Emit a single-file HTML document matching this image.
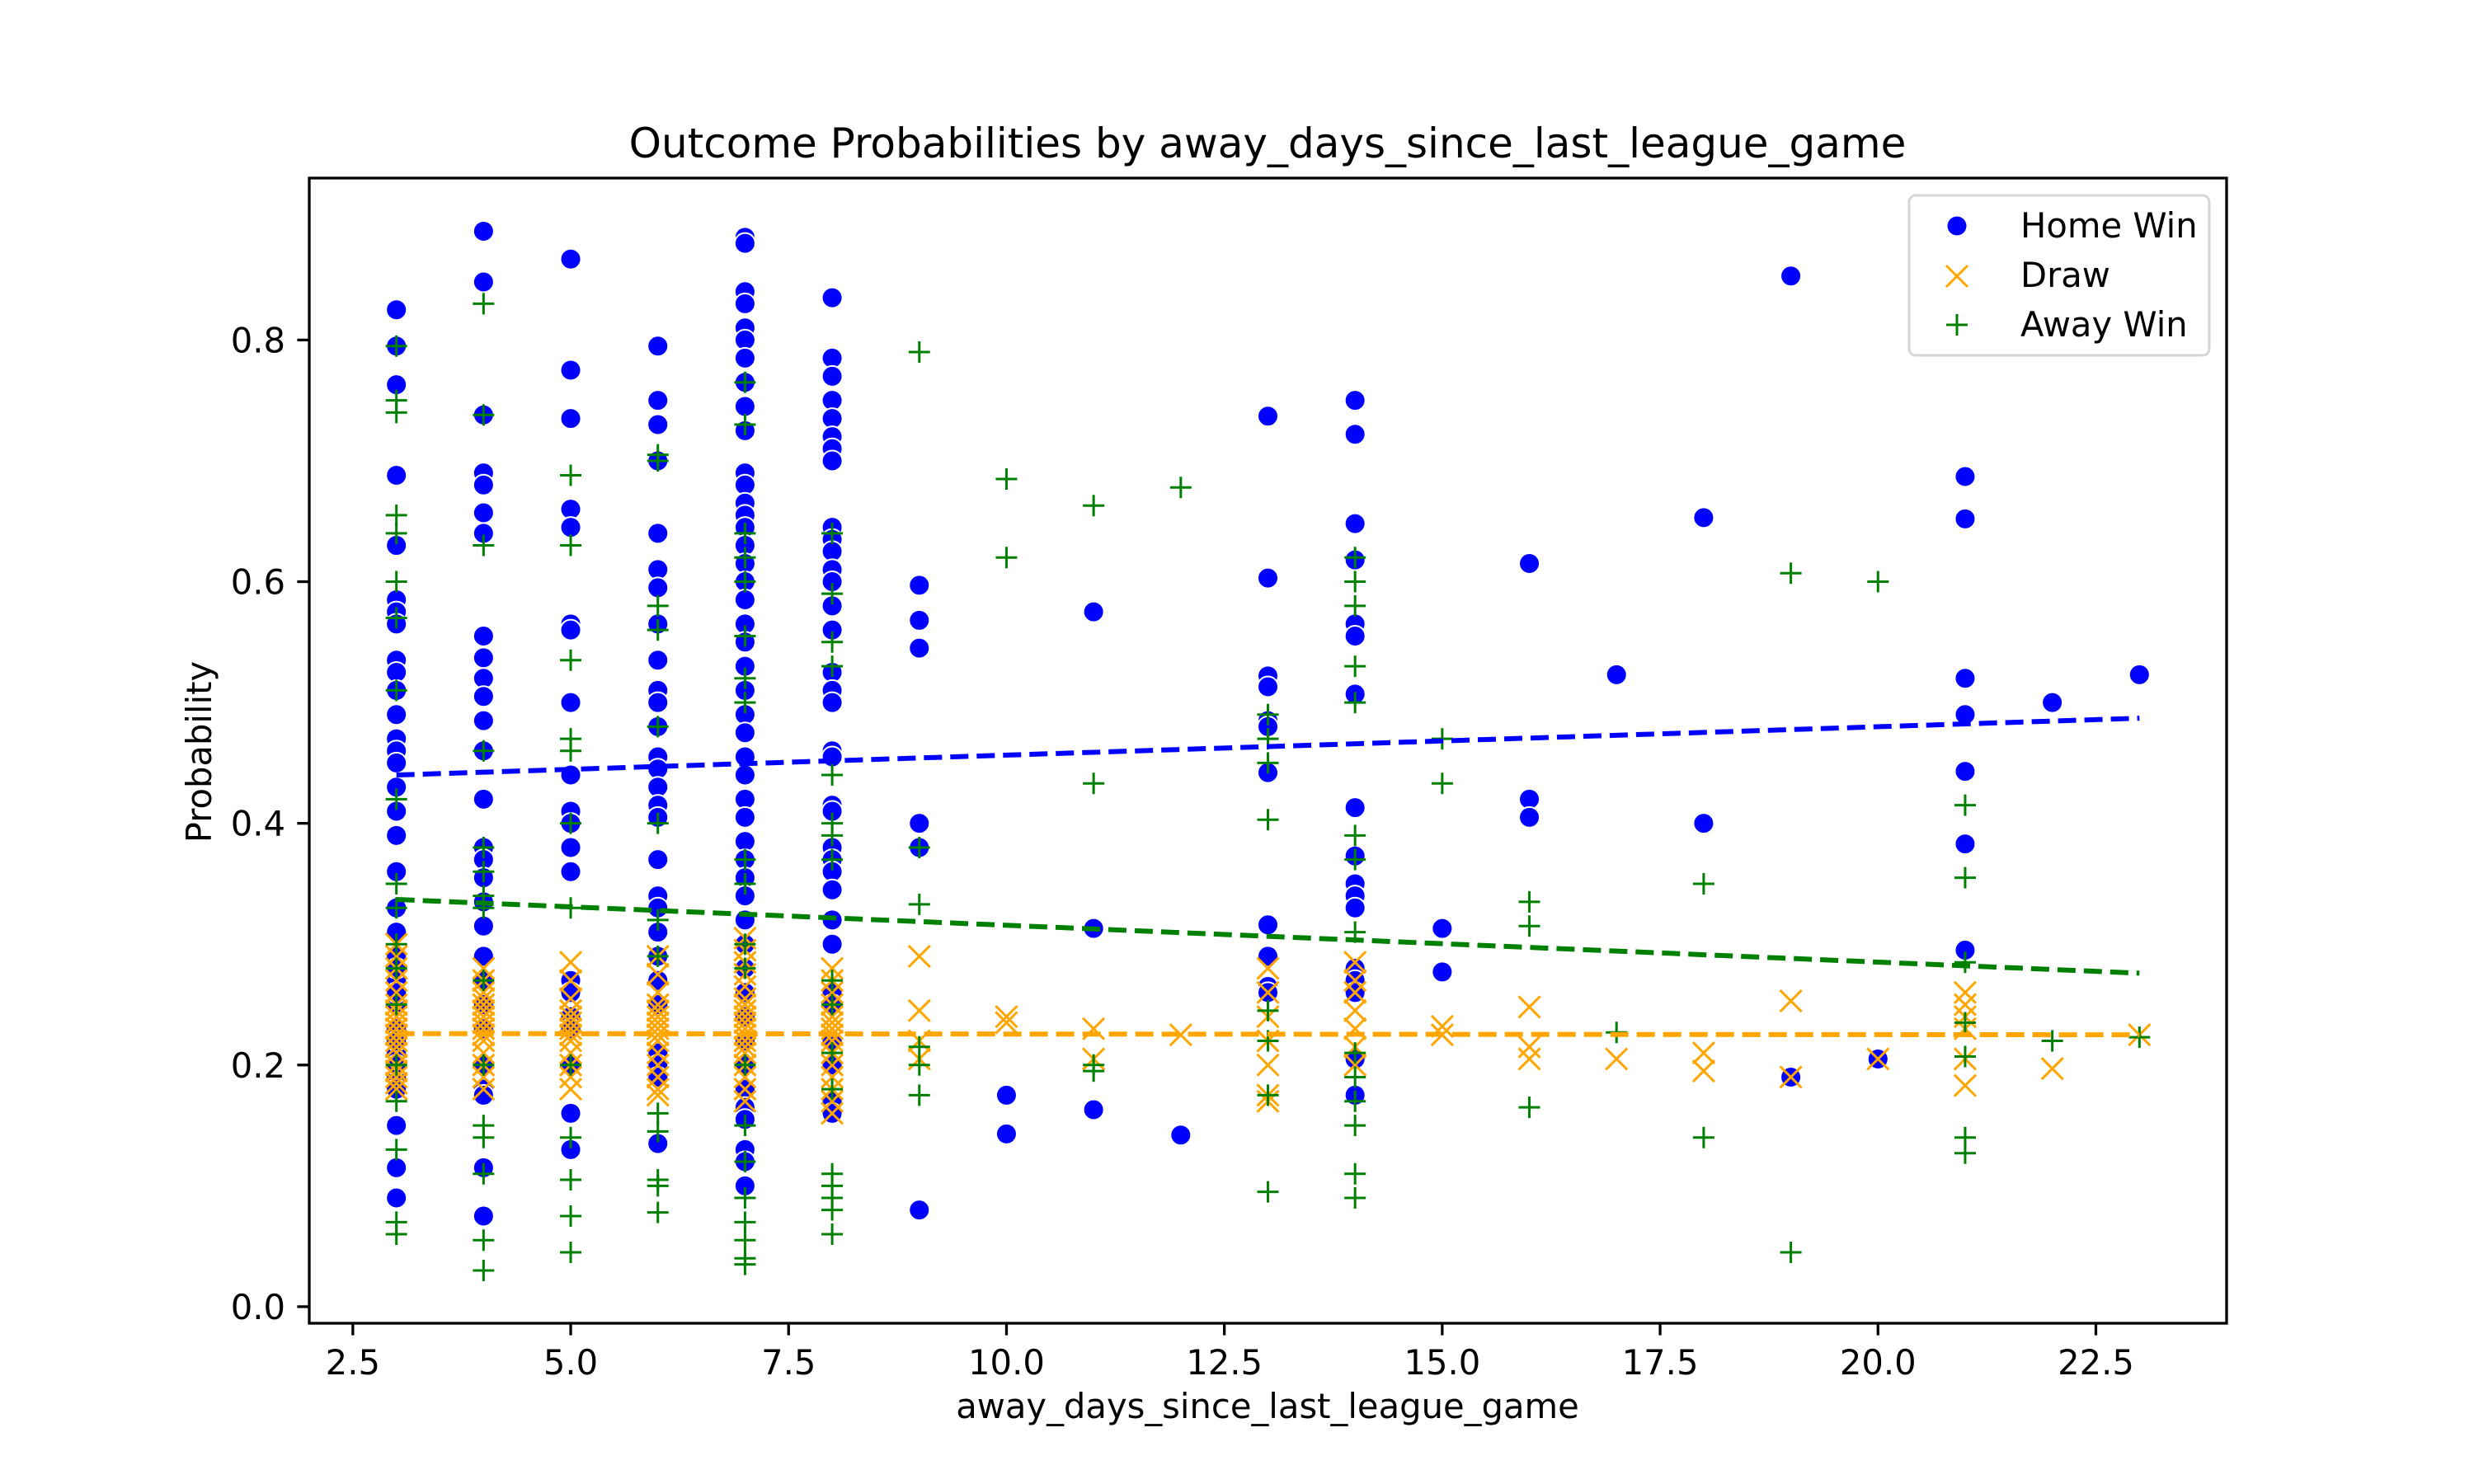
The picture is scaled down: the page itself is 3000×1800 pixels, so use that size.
<!DOCTYPE html>
<html><head><meta charset="utf-8"><style>
html,body{margin:0;padding:0;background:#fff;}
svg{display:block;font-family:"DejaVu Sans","Liberation Sans",sans-serif;}
</style></head><body>
<svg id="chart" width="3000" height="1800" viewBox="0 0 3000 1800" xmlns="http://www.w3.org/2000/svg">
<rect width="3000" height="1800" fill="#fff"/>
<text x="1537" y="191" font-size="50" text-anchor="middle">Outcome Probabilities by away_days_since_last_league_game</text>
<text x="1537" y="1720" font-size="41.7" text-anchor="middle">away_days_since_last_league_game</text>
<text x="0" y="0" font-size="41.7" text-anchor="middle" transform="translate(256,912) rotate(-90)">Probability</text>
<g id="marks"></g>
<g id="axes"></g>
<g>
<rect x="2315" y="237" width="364" height="194" rx="8" fill="#fff" fill-opacity="0.8" stroke="#d6d6d6" stroke-width="3"/>
<circle cx="2373" cy="274" r="11.5" fill="#0000ff"/>
<text x="2450" y="288" font-size="41.7">Home Win</text>
<path d="M2360,322 L2386,348 M2386,322 L2360,348" stroke="#ffa500" stroke-width="3"/>
<text x="2450" y="348" font-size="41.7">Draw</text>
<path d="M2360,394 L2386,394 M2373,381 L2373,407" stroke="#008000" stroke-width="3"/>
<text x="2450" y="408" font-size="41.7">Away Win</text>
</g>
</svg>
<script>
const homeX=[3,4,5,6,7,8,9,10,11,12,13,14,15,16,17,18,19,20,21,22,23];
const homeVals=[
[0.825,0.795,0.763,0.688,0.63,0.585,0.575,0.565,0.535,0.525,0.51,0.49,0.47,0.46,0.45,0.43,0.41,0.39,0.36,0.33,0.31,0.29,0.27,0.25,0.23,0.21,0.19,0.18,0.15,0.115,0.09,0.2,0.22,0.26,0.28],
[0.89,0.848,0.738,0.69,0.68,0.657,0.64,0.555,0.537,0.52,0.505,0.485,0.46,0.42,0.38,0.37,0.355,0.335,0.315,0.29,0.27,0.25,0.23,0.2,0.18,0.175,0.115,0.075],
[0.867,0.775,0.735,0.66,0.645,0.565,0.56,0.5,0.44,0.41,0.4,0.38,0.36,0.27,0.26,0.24,0.23,0.2,0.16,0.13],
[0.795,0.75,0.73,0.7,0.64,0.61,0.595,0.565,0.535,0.51,0.5,0.48,0.455,0.445,0.43,0.415,0.405,0.37,0.34,0.33,0.31,0.29,0.27,0.25,0.21,0.2,0.19,0.135],
[0.885,0.88,0.84,0.83,0.81,0.8,0.785,0.765,0.745,0.725,0.69,0.68,0.665,0.655,0.645,0.63,0.615,0.6,0.585,0.565,0.55,0.53,0.51,0.49,0.475,0.455,0.44,0.42,0.405,0.385,0.37,0.355,0.34,0.32,0.3,0.28,0.26,0.24,0.22,0.2,0.18,0.165,0.155,0.13,0.12,0.1],
[0.835,0.785,0.77,0.75,0.735,0.72,0.71,0.7,0.645,0.635,0.625,0.61,0.6,0.58,0.56,0.525,0.51,0.5,0.46,0.455,0.415,0.41,0.38,0.37,0.36,0.345,0.32,0.3,0.26,0.25,0.22,0.2,0.17,0.16],
[0.597,0.568,0.545,0.4,0.38,0.08],
[0.175,0.143],
[0.575,0.313,0.163],
[0.142],
[0.737,0.603,0.522,0.513,0.485,0.48,0.442,0.316,0.29,0.265,0.26],
[0.75,0.722,0.648,0.618,0.565,0.555,0.507,0.413,0.373,0.35,0.34,0.33,0.28,0.27,0.26,0.205,0.175],
[0.313,0.277],
[0.615,0.42,0.405],
[0.523],
[0.653,0.4],
[0.853,0.19],
[0.205],
[0.687,0.652,0.52,0.49,0.443,0.383,0.295],
[0.5],
[0.523]];
const drawVals=[
[0.3,0.29,0.28,0.27,0.26,0.25,0.245,0.24,0.235,0.23,0.225,0.22,0.215,0.21,0.2,0.195,0.19,0.185,0.18],
[0.28,0.27,0.26,0.255,0.25,0.245,0.24,0.235,0.23,0.225,0.22,0.21,0.2,0.19,0.18],
[0.285,0.27,0.255,0.245,0.24,0.235,0.23,0.225,0.22,0.21,0.2,0.19,0.18],
[0.29,0.275,0.26,0.25,0.245,0.24,0.235,0.23,0.225,0.22,0.21,0.2,0.19,0.18,0.175],
[0.305,0.295,0.285,0.275,0.265,0.255,0.25,0.245,0.24,0.235,0.23,0.225,0.22,0.215,0.21,0.2,0.19,0.18,0.17],
[0.28,0.27,0.26,0.25,0.24,0.235,0.23,0.225,0.22,0.21,0.2,0.19,0.18,0.17,0.16],
[0.29,0.245,0.22,0.205],
[0.24,0.235],
[0.23,0.205],
[0.225],
[0.28,0.26,0.24,0.22,0.2,0.175,0.17],
[0.285,0.27,0.26,0.245,0.23,0.215,0.2],
[0.232,0.225],
[0.248,0.215,0.205],
[0.205],
[0.21,0.195],
[0.253,0.19],
[0.205],
[0.26,0.25,0.24,0.23,0.205,0.183],
[0.197],
[0.225]];
const awayVals=[
[0.795,0.75,0.74,0.655,0.64,0.6,0.57,0.51,0.42,0.35,0.33,0.3,0.28,0.25,0.2,0.17,0.13,0.07,0.06],
[0.83,0.738,0.63,0.46,0.38,0.36,0.34,0.33,0.27,0.2,0.15,0.14,0.11,0.055,0.03],
[0.688,0.63,0.535,0.47,0.46,0.4,0.33,0.2,0.14,0.105,0.075,0.045],
[0.705,0.7,0.58,0.56,0.48,0.4,0.32,0.29,0.16,0.145,0.105,0.1,0.078],
[0.765,0.73,0.64,0.62,0.6,0.555,0.52,0.5,0.37,0.35,0.3,0.28,0.2,0.15,0.12,0.09,0.07,0.055,0.04,0.035],
[0.64,0.59,0.55,0.53,0.44,0.4,0.39,0.37,0.27,0.25,0.21,0.18,0.11,0.1,0.09,0.08,0.06],
[0.79,0.333,0.38,0.215,0.2,0.175],
[0.685,0.62],
[0.663,0.433,0.2,0.195],
[0.678],
[0.49,0.47,0.45,0.403,0.245,0.22,0.175,0.095],
[0.62,0.6,0.58,0.53,0.5,0.39,0.37,0.31,0.21,0.19,0.17,0.15,0.11,0.09],
[0.47,0.433],
[0.335,0.315,0.165],
[0.227],
[0.35,0.14],
[0.607,0.045],
[0.6],
[0.415,0.355,0.285,0.235,0.207,0.14,0.127],
[0.22],
[0.223]];
const trendX=[3,23];
const homeTrend=[0.44,0.487];
const drawTrend=[0.226,0.225];
const awayTrend=[0.337,0.276];
const xTicks=[2.5,5.0,7.5,10.0,12.5,15.0,17.5,20.0,22.5];
const xTickLabels=["2.5","5.0","7.5","10.0","12.5","15.0","17.5","20.0","22.5"];
const yTicks=[0.0,0.2,0.4,0.6,0.8];
const yTickLabels=["0.0","0.2","0.4","0.6","0.8"];

const L=375,R=2700,T=216,B=1605;
const xMin=2,xMax=24,yMin=-0.0137,yMax=0.934;
function sx(v){return L+(v-xMin)/(xMax-xMin)*(R-L);}
function sy(v){return B-(v-yMin)/(yMax-yMin)*(B-T);}
const NS="http://www.w3.org/2000/svg";
const marks=document.getElementById('marks');
const axes=document.getElementById('axes');
function mk(tag,attrs,parent){const e=document.createElementNS(NS,tag);for(const k in attrs)e.setAttribute(k,attrs[k]);parent.appendChild(e);return e;}

homeX.forEach((x,i)=>{homeVals[i].forEach(v=>{
  const c=mk('circle',{cx:sx(x),cy:sy(v),r:12.5,fill:'#0000ff',stroke:'#fff','stroke-width':2},marks);
  
  
});});
homeX.forEach((x,i)=>{drawVals[i].forEach(v=>{
  const X=sx(x),Y=sy(v),s=13;
  const p=mk('path',{d:`M${X-s},${Y-s}L${X+s},${Y+s}M${X+s},${Y-s}L${X-s},${Y+s}`,stroke:'#ffa500','stroke-width':3,fill:'none'},marks);
  
  
});});
homeX.forEach((x,i)=>{awayVals[i].forEach(v=>{
  const X=sx(x),Y=sy(v),s=13;
  const p=mk('path',{d:`M${X-s},${Y}L${X+s},${Y}M${X},${Y-s}L${X},${Y+s}`,stroke:'#008000','stroke-width':3,fill:'none'},marks);
  
  
});});
[[homeTrend,'#0000ff','home-win-trend'],[awayTrend,'#008000','away-win-trend'],[drawTrend,'#ffa500','draw-trend']].forEach(([t,c,n])=>{
  const l=mk('line',{x1:sx(trendX[0]),y1:sy(t[0]),x2:sx(trendX[1]),y2:sy(t[1]),stroke:c,'stroke-width':6,'stroke-dasharray':'22,10'},marks);
  
  
});
const frame=mk('rect',{x:L,y:T,width:R-L,height:B-T,fill:'none',stroke:'#000','stroke-width':3.3},axes);


xTicks.forEach((v,i)=>{
  const X=sx(v);
  const t=mk('line',{x1:X,y1:B,x2:X,y2:B+14.6,stroke:'#000','stroke-width':3.3},axes);
  
  
  const tx=mk('text',{x:X,y:1667,'font-size':41.7,'text-anchor':'middle'},axes);
  tx.textContent=xTickLabels[i];
  
  
});
yTicks.forEach((v,i)=>{
  const Y=sy(v);
  const t=mk('line',{x1:L-14.6,y1:Y,x2:L,y2:Y,stroke:'#000','stroke-width':3.3},axes);
  
  
  const tx=mk('text',{x:346,y:Y+15,'font-size':41.7,'text-anchor':'end'},axes);
  tx.textContent=yTickLabels[i];
  
  
});
</script>
</body></html>
